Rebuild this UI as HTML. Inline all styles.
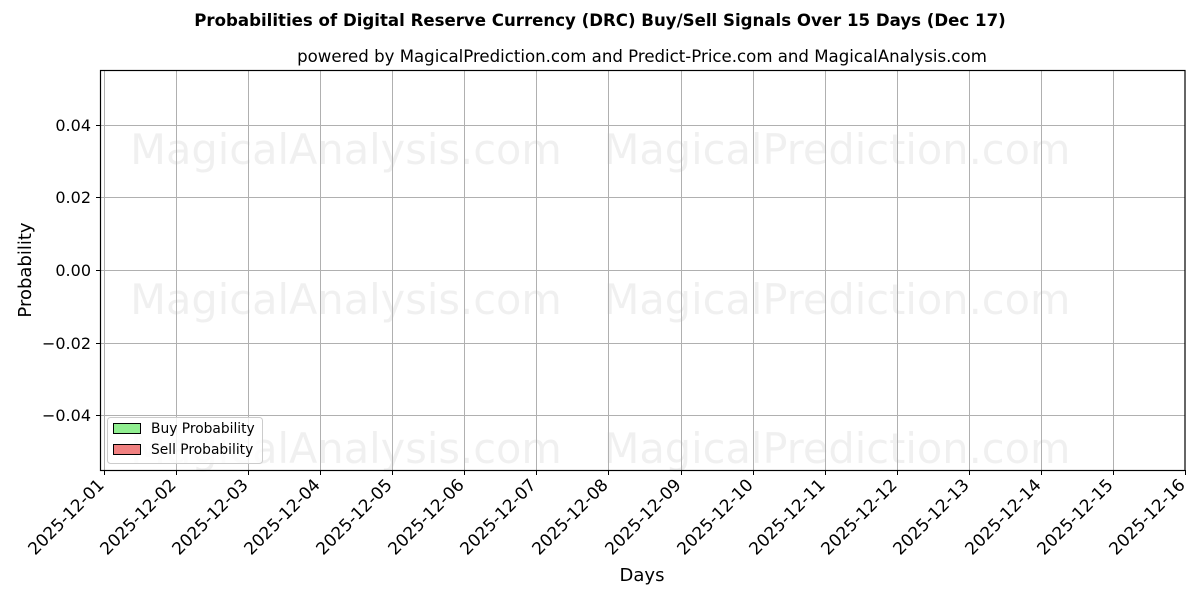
<!DOCTYPE html>
<html><head><meta charset="utf-8"><style>
html,body{margin:0;padding:0;background:#fff;}
svg{display:block;font-family:"DejaVu Sans","Liberation Sans",sans-serif;}
</style></head><body>
<svg width="1200" height="600" xmlns="http://www.w3.org/2000/svg">
<rect width="1200" height="600" fill="#fff"/>
<text x="600" y="26" text-anchor="middle" font-size="16.6" font-weight="bold">Probabilities of Digital Reserve Currency (DRC) Buy/Sell Signals Over 15 Days (Dec 17)</text>
<text x="642" y="62" text-anchor="middle" font-size="16.6">powered by MagicalPrediction.com and Predict-Price.com and MagicalAnalysis.com</text>
<g font-size="41.5" fill="#000" fill-opacity="0.06">
<text x="346" y="164" text-anchor="middle">MagicalAnalysis.com</text>
<text x="837" y="164" text-anchor="middle">MagicalPrediction.com</text>
<text x="346" y="314" text-anchor="middle">MagicalAnalysis.com</text>
<text x="837" y="314" text-anchor="middle">MagicalPrediction.com</text>
<text x="346" y="463" text-anchor="middle">MagicalAnalysis.com</text>
<text x="837" y="463" text-anchor="middle">MagicalPrediction.com</text>
</g>
<g stroke="#b0b0b0" stroke-width="1">
<line x1="104.5" y1="70" x2="104.5" y2="470"/><line x1="176.5" y1="70" x2="176.5" y2="470"/><line x1="248.5" y1="70" x2="248.5" y2="470"/><line x1="320.5" y1="70" x2="320.5" y2="470"/><line x1="392.5" y1="70" x2="392.5" y2="470"/><line x1="464.5" y1="70" x2="464.5" y2="470"/><line x1="536.5" y1="70" x2="536.5" y2="470"/><line x1="608.5" y1="70" x2="608.5" y2="470"/><line x1="681.5" y1="70" x2="681.5" y2="470"/><line x1="753.5" y1="70" x2="753.5" y2="470"/><line x1="825.5" y1="70" x2="825.5" y2="470"/><line x1="897.5" y1="70" x2="897.5" y2="470"/><line x1="969.5" y1="70" x2="969.5" y2="470"/><line x1="1041.5" y1="70" x2="1041.5" y2="470"/><line x1="1113.5" y1="70" x2="1113.5" y2="470"/>
<line x1="101" y1="125.5" x2="1185" y2="125.5"/><line x1="101" y1="197.5" x2="1185" y2="197.5"/><line x1="101" y1="270.5" x2="1185" y2="270.5"/><line x1="101" y1="343.5" x2="1185" y2="343.5"/><line x1="101" y1="415.5" x2="1185" y2="415.5"/>
</g>
<rect x="100.5" y="70.5" width="1084.5" height="400" fill="none" stroke="#000" stroke-width="1.2"/>
<g stroke="#000" stroke-width="1">
<line x1="96" y1="125.5" x2="100" y2="125.5"/><line x1="96" y1="197.5" x2="100" y2="197.5"/><line x1="96" y1="270.5" x2="100" y2="270.5"/><line x1="96" y1="343.5" x2="100" y2="343.5"/><line x1="96" y1="415.5" x2="100" y2="415.5"/>
</g>
<g font-size="16" text-anchor="end">
<text x="91" y="131">0.04</text><text x="91" y="203">0.02</text><text x="91" y="276">0.00</text><text x="91" y="349">−0.02</text><text x="91" y="421">−0.04</text>
</g>
<text transform="translate(31,270) rotate(-90)" text-anchor="middle" font-size="18">Probability</text>
<text x="642" y="581" text-anchor="middle" font-size="18">Days</text>
<g font-size="17" text-anchor="end">
<text transform="translate(105,486) rotate(-45)">2025-12-01</text>
<text transform="translate(177,486) rotate(-45)">2025-12-02</text>
<text transform="translate(249,486) rotate(-45)">2025-12-03</text>
<text transform="translate(321,486) rotate(-45)">2025-12-04</text>
<text transform="translate(393,486) rotate(-45)">2025-12-05</text>
<text transform="translate(465,486) rotate(-45)">2025-12-06</text>
<text transform="translate(537,486) rotate(-45)">2025-12-07</text>
<text transform="translate(609,486) rotate(-45)">2025-12-08</text>
<text transform="translate(682,486) rotate(-45)">2025-12-09</text>
<text transform="translate(754,486) rotate(-45)">2025-12-10</text>
<text transform="translate(826,486) rotate(-45)">2025-12-11</text>
<text transform="translate(898,486) rotate(-45)">2025-12-12</text>
<text transform="translate(970,486) rotate(-45)">2025-12-13</text>
<text transform="translate(1042,486) rotate(-45)">2025-12-14</text>
<text transform="translate(1114,486) rotate(-45)">2025-12-15</text>
<text transform="translate(1186,486) rotate(-45)">2025-12-16</text>
</g>
<g stroke="#000" stroke-width="1">
<line x1="104.5" y1="470" x2="104.5" y2="475"/><line x1="176.5" y1="470" x2="176.5" y2="475"/><line x1="248.5" y1="470" x2="248.5" y2="475"/><line x1="320.5" y1="470" x2="320.5" y2="475"/><line x1="392.5" y1="470" x2="392.5" y2="475"/><line x1="464.5" y1="470" x2="464.5" y2="475"/><line x1="536.5" y1="470" x2="536.5" y2="475"/><line x1="608.5" y1="470" x2="608.5" y2="475"/><line x1="681.5" y1="470" x2="681.5" y2="475"/><line x1="753.5" y1="470" x2="753.5" y2="475"/><line x1="825.5" y1="470" x2="825.5" y2="475"/><line x1="897.5" y1="470" x2="897.5" y2="475"/><line x1="969.5" y1="470" x2="969.5" y2="475"/><line x1="1041.5" y1="470" x2="1041.5" y2="475"/><line x1="1113.5" y1="470" x2="1113.5" y2="475"/><line x1="1185.5" y1="470" x2="1185.5" y2="475"/>
</g>
<rect x="107.5" y="417.5" width="155" height="46" rx="3" fill="#fff" fill-opacity="0.8" stroke="#ccc"/>
<rect x="113.5" y="423.5" width="27" height="10" fill="#90ee90" stroke="#000"/>
<rect x="113.5" y="444.5" width="27" height="10" fill="#f08080" stroke="#000"/>
<text x="151" y="433" font-size="13.8">Buy Probability</text>
<text x="151" y="454" font-size="13.8">Sell Probability</text>
</svg>
</body></html>
